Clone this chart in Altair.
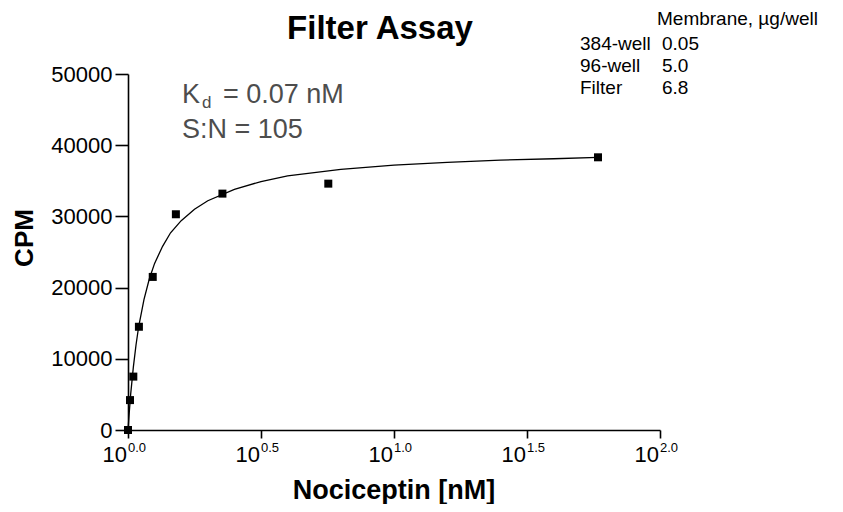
import altair as alt
import pandas as pd

# measured data points
conc = [0, 0.0075, 0.02, 0.041, 0.093, 0.18, 0.355, 0.753, 1.767]
cpm = [0, 4200, 7500, 14500, 21500, 30300, 33200, 34600, 38300]

# fitted curve
fit_conc = [0, 0.005, 0.01, 0.02, 0.03, 0.04, 0.06, 0.08, 0.1, 0.13, 0.16, 0.2,
            0.25, 0.3, 0.4, 0.5, 0.6, 0.8, 1.0, 1.2, 1.4, 1.6, 1.767]
fit_cpm = [0, 2600, 5000, 8800, 11900, 14500, 18300, 21200, 23400, 25800, 27700, 29400,
           31000, 32200, 33800, 34900, 35700, 36600, 37200, 37600, 37900, 38100, 38300]

# x tick positions and exponent labels
tick_vals = [0, 0.5, 1.0, 1.5, 2.0]
tick_exps = ["0.0", "0.5", "1.0", "1.5", "2.0"]
y_ticks = [0, 10000, 20000, 30000, 40000, 50000]

# legend text
mem_header = "Membrane, \u00b5g/well"
mem_labels = ["384-well", "96-well", "Filter"]
mem_values = ["0.05", "5.0", "6.8"]

FONT = "Liberation Sans"

pts = pd.DataFrame({"conc": conc, "cpm": cpm})
fit = pd.DataFrame({"conc": fit_conc, "cpm": fit_cpm})
ticks = pd.DataFrame({"conc": tick_vals, "exp": tick_exps})

xscale = alt.Scale(domain=[0, 2], nice=False, zero=False)
yscale = alt.Scale(domain=[0, 50000], nice=False)

xenc = alt.X("conc:Q", scale=xscale,
             axis=alt.Axis(values=tick_vals, labels=False, tickSize=8, title=None,
                           grid=False, domainColor="black", tickColor="black",
                           domainWidth=1.6, tickWidth=1.6))
yenc = alt.Y("cpm:Q", scale=yscale,
             axis=alt.Axis(values=y_ticks, format="d", tickSize=13, labelPadding=3,
                           title=None, grid=False, labelFontSize=22, labelFont=FONT,
                           labelColor="black", domainColor="black", tickColor="black",
                           domainWidth=1.6, tickWidth=1.6))

line = alt.Chart(fit).mark_line(color="black", strokeWidth=1.3).encode(x=xenc, y=yenc)
points = alt.Chart(pts).mark_point(shape="square", filled=True, color="black",
                                   size=64, opacity=1).encode(x="conc:Q", y="cpm:Q")

ten = alt.Chart(ticks).mark_text(font=FONT, fontSize=22, align="right",
                                 baseline="alphabetic", dx=-1, color="black").encode(
    x="conc:Q", y=alt.value(388), text=alt.value("10"))
sup = alt.Chart(ticks).mark_text(font=FONT, fontSize=13, align="left",
                                 baseline="alphabetic", dx=0, color="black").encode(
    x="conc:Q", y=alt.value(378), text="exp:N")


def label(txt, x, y, size, weight="normal", color="black", align="left", angle=0):
    return alt.Chart(pd.DataFrame({"t": [txt]})).mark_text(
        font=FONT, fontSize=size, fontWeight=weight, color=color, align=align,
        baseline="alphabetic", angle=angle).encode(
        x=alt.value(x), y=alt.value(y), text="t:N")


layers = [line, points, ten, sup,
          label("Filter Assay", 252, -35, 33, weight="bold", align="center"),
          label("Nociceptin [nM]", 266, 425, 27, weight="bold", align="center"),
          label("CPM", -95, 164, 26, weight="bold", align="center", angle=270),
          label("K", 54, 29, 27, color="#4d4d4d"),
          label("d", 74, 34, 17, color="#4d4d4d"),
          label("= 0.07 nM", 95, 29, 27, color="#4d4d4d"),
          label("S:N = 105", 54, 64, 27, color="#4d4d4d"),
          label(mem_header, 529, -49, 19)]
for i, (lab, val) in enumerate(zip(mem_labels, mem_values)):
    layers.append(label(lab, 452, -24 + 22 * i, 19))
    layers.append(label(val, 534, -24 + 22 * i, 19))

chart = alt.layer(*layers).properties(
    width=532, height=356, autosize="none", background="white",
    padding={"left": 120, "top": 66, "right": 175, "bottom": 74},
).configure_view(strokeWidth=0, stroke="transparent")

chart.save("out.html", embed_options={"renderer": "svg", "actions": False})
